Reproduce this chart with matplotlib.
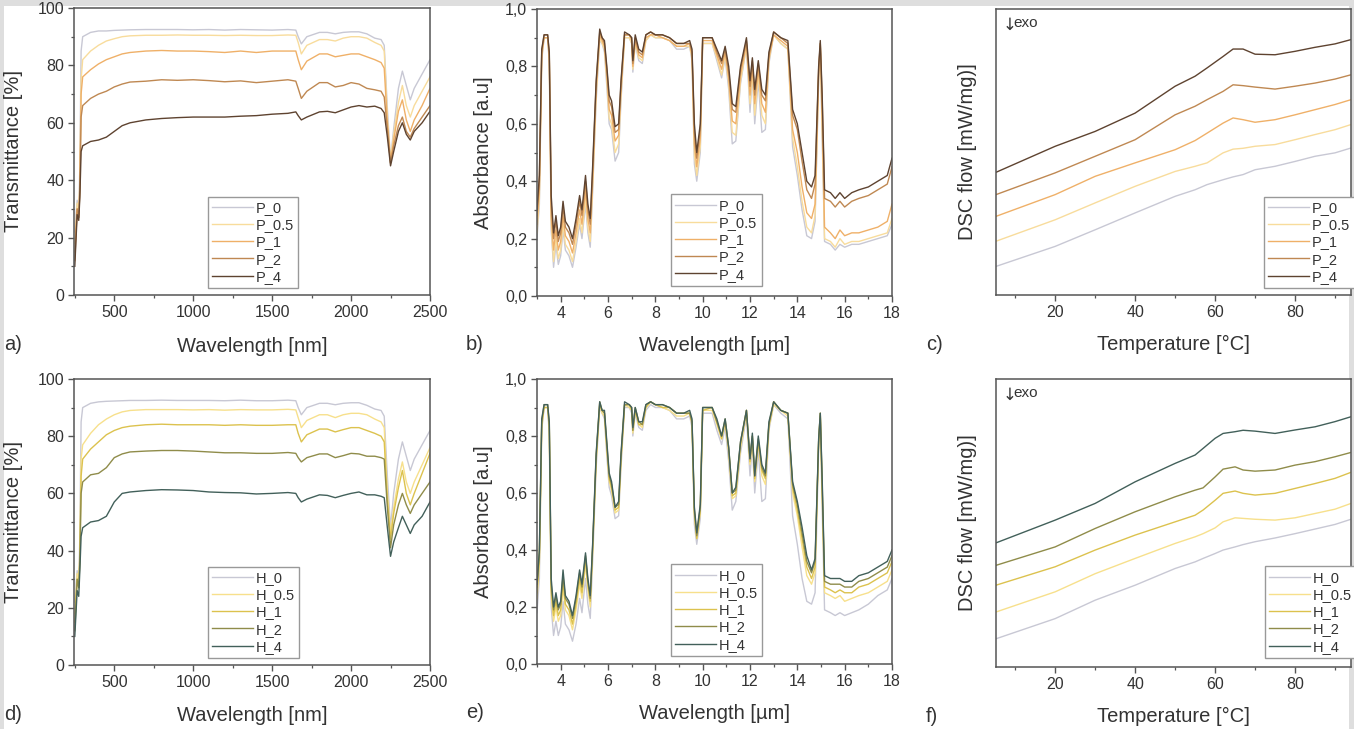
import matplotlib
matplotlib.use('Agg')
import matplotlib.pyplot as plt
from matplotlib.ticker import MultipleLocator, FuncFormatter
from matplotlib.patches import Rectangle

plt.rcParams['font.family'] = ['Liberation Sans', 'DejaVu Sans']

W, H = 1354, 729

# ---------------- data ----------------
p_labels = ['P_0', 'P_0.5', 'P_1', 'P_2', 'P_4']
h_labels = ['H_0', 'H_0.5', 'H_1', 'H_2', 'H_4']
p_colors = ['#c8c8d4', '#f8dc9c', '#efb068', '#bf8852', '#5e4330']
h_colors = ['#c8c8d4', '#f7e08c', '#dcc24e', '#8f8c4a', '#42605a']

# transmittance (a, d)
x_nir = [250, 265, 275, 282, 290, 300, 350, 400, 450, 500,
         550, 600, 700, 800, 900, 1000, 1100, 1200, 1300, 1400,
         1500, 1600, 1650, 1665, 1685, 1720, 1800, 1850, 1900, 1950,
         2000, 2050, 2100, 2150, 2190, 2210, 2230, 2250, 2270, 2300,
         2325, 2350, 2375, 2400, 2450, 2500]

t_P0 = [22, 33, 28, 45, 85, 90, 91.5, 92, 92, 92.2,
        92.3, 92.4, 92.5, 92.5, 92.5, 92.4, 92.5, 92.3, 92.5, 92.4,
        92.3, 92.5, 92.3, 90, 87.5, 90, 91.5, 91.5, 91, 91.5,
        91.7, 91.7, 91, 89.5, 89, 87, 65, 47, 58, 72,
        78, 73, 68, 72, 77, 82]
t_P05 = [18, 32, 28, 40, 75, 82, 85, 87, 88.5, 89.3,
         90, 90.3, 90.5, 90.5, 90.6, 90.5, 90.5, 90.4, 90.5, 90.4,
         90.4, 90.6, 90.5, 88, 84, 87, 89, 89, 88.5, 89.5,
         90, 90, 89.5, 88, 87, 85, 62, 47, 56, 67,
         73, 66, 62, 66, 71, 76]
t_P1 = [15, 30, 27, 38, 70, 76, 78.5, 80.5, 82, 83,
        84, 84.5, 85, 85.2, 85, 85, 84.8, 84.5, 85, 84.5,
        85, 85, 85, 82, 78.5, 81.5, 84, 84, 83, 83.5,
        84, 84, 83, 82, 81, 79, 60, 46, 54, 64,
        68, 61, 57, 61, 66, 72]
t_P2 = [12, 30, 27, 36, 62, 66, 68.5, 70, 71, 72.5,
        73.5, 74.2, 74.5, 75, 74.8, 75, 74.7, 74.3, 74.6, 74,
        74.5, 75, 74.5, 72, 68.5, 71, 74, 74, 72.5, 73,
        74, 73.5, 72, 71.5, 71, 69, 58, 46, 52, 59,
        62, 57, 55, 58, 62, 66]
t_P4 = [10, 28, 26, 34, 50, 52, 53.5, 54, 55, 57,
        59, 60, 61, 61.5, 61.8, 62, 62, 62, 62.3, 62.5,
        63, 63.3, 63.8, 62.5, 61, 62, 63.8, 64, 63.5, 64.5,
        65.5, 66, 65.5, 65.8, 65, 63.5, 55, 45, 50, 57,
        60, 56, 54, 57, 60, 64]

t_H0 = [22, 33, 28, 45, 85, 90, 91.5, 92, 92.2, 92.3,
        92.4, 92.5, 92.5, 92.6, 92.5, 92.5, 92.5, 92.4, 92.6, 92.4,
        92.4, 92.6, 92.4, 90, 87.5, 90, 91.5, 91.5, 91, 91.5,
        91.7, 91.7, 90.8, 89.5, 89, 87, 66, 48, 60, 72,
        78, 73, 68, 72, 77, 82]
t_H05 = [18, 32, 28, 40, 72, 77, 81, 84, 86, 87.5,
         88.5, 89, 89.3, 89.3, 89.3, 89.2, 89.3, 89.1, 89.3, 89.2,
         89.2, 89.4, 89.2, 86.5, 83, 85.5, 87.5, 87.5, 86.5, 87.5,
         88, 88, 87.5, 86, 85, 83, 60, 46, 55, 65,
         71, 64, 60, 64, 70, 76]
t_H1 = [15, 30, 27, 38, 66, 72, 75.5, 78, 80.5, 82,
        83, 83.5, 84, 84.2, 84, 84, 84, 83.8, 84, 83.8,
        83.8, 84, 84, 81, 78, 80.5, 82.5, 82.5, 81.5, 82.3,
        83, 83, 82, 81, 80, 78, 58, 44, 53, 62,
        68, 60, 56, 60, 67, 74]
t_H2 = [12, 30, 27, 36, 60, 64, 66.5, 67, 69, 72.5,
        73.8, 74.5, 74.8, 75, 75, 74.8, 74.5, 74.2, 74.2, 74,
        74, 74.3, 74, 72.5, 71, 72.5, 73.8, 73.8, 72.5, 73.2,
        74, 73.8, 73, 73, 72.5, 72, 55, 41, 49, 56,
        60, 56, 53, 56, 60, 64]
t_H4 = [10, 26, 24, 33, 45, 48, 50, 50.5, 52, 57,
        60, 60.5, 61, 61.3, 61.2, 61, 60.5, 60.3, 60.2, 59.8,
        60, 60.3, 60, 58.5, 57, 58, 59.5, 59.3, 58.5, 59.3,
        60, 60.5, 59.5, 59.5, 59, 58.5, 48, 38, 43, 48,
        52, 49, 46, 49, 52, 57]

# absorbance (b, e)
x_mir = [3.0, 3.1, 3.2, 3.3, 3.45, 3.52, 3.6, 3.7, 3.8, 3.9,
         4.0, 4.1, 4.2, 4.35, 4.5, 4.65, 4.8, 4.9, 5.05, 5.15,
         5.25, 5.35, 5.5, 5.65, 5.75, 5.85, 5.95, 6.05, 6.15, 6.3,
         6.45, 6.55, 6.7, 6.9, 7.0, 7.05, 7.15, 7.3, 7.45, 7.6,
         7.8, 8.0, 8.3, 8.6, 8.9, 9.2, 9.45, 9.55, 9.65, 9.75,
         9.9, 10.0, 10.4, 10.6, 10.8, 10.95, 11.1, 11.25, 11.4, 11.6,
         11.85, 12.0, 12.1, 12.2, 12.35, 12.5, 12.65, 12.8, 13.0, 13.3,
         13.6, 13.8, 14.0, 14.2, 14.4, 14.6, 14.75, 14.9, 14.97, 15.05,
         15.15, 15.4, 15.6, 15.8, 16.0, 16.3, 16.6, 17.0, 17.4, 17.8,
         18.0]

a_P0 = [0.20, 0.32, 0.82, 0.90, 0.90, 0.81, 0.23, 0.10, 0.18, 0.11,
        0.14, 0.23, 0.16, 0.14, 0.10, 0.17, 0.25, 0.20, 0.32, 0.22,
        0.17, 0.36, 0.68, 0.89, 0.88, 0.85, 0.73, 0.60, 0.58, 0.47,
        0.50, 0.68, 0.90, 0.90, 0.88, 0.78, 0.88, 0.82, 0.81, 0.89,
        0.91, 0.90, 0.90, 0.89, 0.86, 0.86, 0.87, 0.82, 0.46, 0.40,
        0.50, 0.88, 0.88, 0.82, 0.76, 0.83, 0.72, 0.53, 0.54, 0.74,
        0.87, 0.64, 0.77, 0.60, 0.75, 0.57, 0.58, 0.81, 0.91, 0.88,
        0.86, 0.52, 0.42, 0.30, 0.21, 0.20, 0.26, 0.75, 0.87, 0.55,
        0.19, 0.18, 0.16, 0.18, 0.17, 0.18, 0.18, 0.19, 0.20, 0.21,
        0.25]
a_P05 = [0.22, 0.34, 0.83, 0.90, 0.90, 0.82, 0.25, 0.12, 0.20, 0.13,
         0.16, 0.25, 0.18, 0.16, 0.12, 0.19, 0.27, 0.22, 0.34, 0.24,
         0.19, 0.38, 0.70, 0.90, 0.88, 0.86, 0.75, 0.62, 0.60, 0.50,
         0.53, 0.70, 0.90, 0.90, 0.88, 0.79, 0.88, 0.83, 0.82, 0.89,
         0.91, 0.90, 0.90, 0.89, 0.87, 0.87, 0.87, 0.83, 0.49, 0.42,
         0.52, 0.88, 0.88, 0.83, 0.77, 0.84, 0.74, 0.57, 0.56, 0.75,
         0.87, 0.67, 0.78, 0.63, 0.77, 0.63, 0.60, 0.82, 0.91, 0.88,
         0.86, 0.55, 0.45, 0.33, 0.24, 0.22, 0.28, 0.76, 0.87, 0.58,
         0.20, 0.19, 0.17, 0.20, 0.18, 0.19, 0.19, 0.20, 0.21, 0.22,
         0.27]
a_P1 = [0.25, 0.37, 0.84, 0.90, 0.90, 0.83, 0.28, 0.16, 0.23, 0.16,
        0.19, 0.28, 0.21, 0.19, 0.15, 0.22, 0.30, 0.25, 0.37, 0.27,
        0.22, 0.40, 0.72, 0.91, 0.89, 0.87, 0.77, 0.65, 0.63, 0.54,
        0.56, 0.72, 0.91, 0.91, 0.89, 0.80, 0.89, 0.84, 0.83, 0.90,
        0.91, 0.91, 0.90, 0.89, 0.87, 0.87, 0.88, 0.84, 0.53, 0.45,
        0.55, 0.89, 0.89, 0.84, 0.79, 0.85, 0.76, 0.61, 0.60, 0.77,
        0.88, 0.70, 0.80, 0.67, 0.79, 0.67, 0.64, 0.83, 0.91, 0.89,
        0.87, 0.58, 0.50, 0.38, 0.29, 0.27, 0.32, 0.77, 0.88, 0.62,
        0.24, 0.22, 0.20, 0.23, 0.21, 0.22, 0.22, 0.23, 0.24, 0.26,
        0.32]
a_P2 = [0.28, 0.40, 0.85, 0.91, 0.91, 0.84, 0.32, 0.20, 0.26, 0.19,
        0.22, 0.31, 0.24, 0.22, 0.18, 0.25, 0.33, 0.28, 0.40, 0.30,
        0.25, 0.43, 0.74, 0.92, 0.90, 0.88, 0.79, 0.68, 0.66, 0.57,
        0.58, 0.74, 0.91, 0.91, 0.90, 0.81, 0.90, 0.85, 0.84, 0.91,
        0.92, 0.91, 0.91, 0.90, 0.88, 0.88, 0.88, 0.85, 0.57, 0.48,
        0.58, 0.90, 0.90, 0.85, 0.81, 0.86, 0.78, 0.65, 0.64, 0.79,
        0.89, 0.73, 0.82, 0.70, 0.81, 0.70, 0.68, 0.84, 0.92, 0.90,
        0.88, 0.63, 0.58, 0.47, 0.37, 0.34, 0.39, 0.79, 0.88, 0.68,
        0.34, 0.33, 0.31, 0.33, 0.31, 0.33, 0.34, 0.35, 0.37, 0.39,
        0.45]
a_P4 = [0.30, 0.42, 0.86, 0.91, 0.91, 0.85, 0.35, 0.22, 0.28, 0.21,
        0.24, 0.33, 0.26, 0.24, 0.20, 0.27, 0.35, 0.30, 0.42, 0.32,
        0.27, 0.45, 0.75, 0.93, 0.90, 0.89, 0.80, 0.70, 0.68, 0.59,
        0.60, 0.75, 0.92, 0.91, 0.90, 0.82, 0.91, 0.86, 0.85, 0.91,
        0.92, 0.91, 0.91, 0.90, 0.88, 0.88, 0.89, 0.86, 0.60, 0.50,
        0.60, 0.90, 0.90, 0.86, 0.82, 0.87, 0.80, 0.67, 0.66, 0.80,
        0.90, 0.75, 0.83, 0.72, 0.82, 0.72, 0.70, 0.85, 0.92, 0.90,
        0.89, 0.65, 0.60, 0.50, 0.40, 0.38, 0.42, 0.80, 0.89, 0.70,
        0.37, 0.36, 0.34, 0.36, 0.34, 0.36, 0.37, 0.38, 0.40, 0.42,
        0.48]

a_H0 = [0.18, 0.30, 0.82, 0.90, 0.90, 0.80, 0.20, 0.10, 0.15, 0.10,
        0.13, 0.22, 0.14, 0.12, 0.08, 0.14, 0.23, 0.18, 0.30, 0.21,
        0.16, 0.36, 0.69, 0.90, 0.88, 0.86, 0.73, 0.62, 0.59, 0.51,
        0.52, 0.69, 0.90, 0.90, 0.88, 0.80, 0.88, 0.83, 0.82, 0.89,
        0.91, 0.90, 0.90, 0.89, 0.86, 0.86, 0.87, 0.83, 0.49, 0.42,
        0.51, 0.88, 0.88, 0.82, 0.77, 0.83, 0.71, 0.54, 0.57, 0.74,
        0.87, 0.66, 0.77, 0.60, 0.75, 0.57, 0.58, 0.82, 0.91, 0.88,
        0.86, 0.52, 0.42, 0.30, 0.22, 0.21, 0.25, 0.76, 0.87, 0.55,
        0.19, 0.18, 0.17, 0.18, 0.17, 0.18, 0.19, 0.21, 0.24, 0.26,
        0.30]
a_H05 = [0.23, 0.35, 0.83, 0.90, 0.90, 0.82, 0.24, 0.15, 0.20, 0.15,
         0.17, 0.27, 0.19, 0.17, 0.12, 0.19, 0.28, 0.23, 0.35, 0.26,
         0.20, 0.39, 0.71, 0.91, 0.88, 0.87, 0.75, 0.64, 0.61, 0.53,
         0.54, 0.71, 0.91, 0.90, 0.89, 0.81, 0.89, 0.84, 0.83, 0.90,
         0.92, 0.91, 0.90, 0.89, 0.87, 0.87, 0.88, 0.84, 0.52, 0.44,
         0.53, 0.89, 0.89, 0.84, 0.79, 0.85, 0.74, 0.58, 0.59, 0.76,
         0.88, 0.70, 0.79, 0.64, 0.78, 0.66, 0.63, 0.83, 0.91, 0.89,
         0.87, 0.60, 0.52, 0.41, 0.31, 0.28, 0.32, 0.77, 0.87, 0.59,
         0.25, 0.24, 0.23, 0.24, 0.22, 0.23, 0.24, 0.25, 0.27, 0.29,
         0.33]
a_H1 = [0.25, 0.37, 0.84, 0.90, 0.90, 0.83, 0.26, 0.17, 0.22, 0.17,
        0.19, 0.29, 0.21, 0.19, 0.14, 0.21, 0.30, 0.25, 0.37, 0.28,
        0.22, 0.40, 0.72, 0.91, 0.89, 0.88, 0.76, 0.65, 0.62, 0.54,
        0.55, 0.72, 0.91, 0.91, 0.89, 0.82, 0.89, 0.84, 0.84, 0.90,
        0.92, 0.91, 0.90, 0.90, 0.88, 0.88, 0.88, 0.85, 0.53, 0.44,
        0.54, 0.89, 0.90, 0.85, 0.79, 0.85, 0.75, 0.59, 0.60, 0.77,
        0.89, 0.71, 0.80, 0.65, 0.78, 0.68, 0.65, 0.84, 0.92, 0.89,
        0.88, 0.62, 0.54, 0.44, 0.34, 0.30, 0.34, 0.78, 0.88, 0.61,
        0.27, 0.26, 0.25, 0.26, 0.25, 0.25, 0.27, 0.28, 0.30, 0.32,
        0.36]
a_H2 = [0.27, 0.39, 0.85, 0.91, 0.91, 0.84, 0.28, 0.19, 0.24, 0.19,
        0.21, 0.31, 0.23, 0.21, 0.16, 0.23, 0.32, 0.27, 0.38, 0.29,
        0.23, 0.41, 0.73, 0.92, 0.89, 0.88, 0.77, 0.66, 0.63, 0.55,
        0.56, 0.73, 0.91, 0.91, 0.90, 0.82, 0.90, 0.85, 0.84, 0.91,
        0.92, 0.91, 0.91, 0.90, 0.88, 0.88, 0.88, 0.85, 0.54, 0.45,
        0.55, 0.90, 0.90, 0.85, 0.80, 0.86, 0.76, 0.60, 0.61, 0.78,
        0.89, 0.72, 0.80, 0.66, 0.79, 0.69, 0.66, 0.84, 0.92, 0.89,
        0.88, 0.63, 0.56, 0.46, 0.36, 0.32, 0.36, 0.78, 0.88, 0.63,
        0.29, 0.28, 0.28, 0.28, 0.27, 0.27, 0.29, 0.30, 0.32, 0.34,
        0.38]
a_H4 = [0.28, 0.40, 0.86, 0.91, 0.91, 0.85, 0.30, 0.20, 0.25, 0.20,
        0.22, 0.33, 0.24, 0.22, 0.17, 0.24, 0.33, 0.28, 0.39, 0.30,
        0.24, 0.42, 0.74, 0.92, 0.89, 0.89, 0.78, 0.67, 0.64, 0.55,
        0.57, 0.74, 0.92, 0.91, 0.90, 0.83, 0.90, 0.85, 0.85, 0.91,
        0.92, 0.91, 0.91, 0.90, 0.88, 0.88, 0.89, 0.86, 0.55, 0.46,
        0.56, 0.90, 0.90, 0.86, 0.80, 0.86, 0.76, 0.60, 0.62, 0.78,
        0.89, 0.72, 0.81, 0.66, 0.80, 0.70, 0.67, 0.85, 0.92, 0.89,
        0.88, 0.64, 0.57, 0.48, 0.38, 0.33, 0.37, 0.79, 0.88, 0.65,
        0.31, 0.30, 0.30, 0.30, 0.29, 0.29, 0.31, 0.32, 0.34, 0.36,
        0.40]

# DSC (c, f) - heat flow in arbitrary units (no scale shown)
x_dsc_p = [5.2, 20, 30, 40, 50, 55, 58, 62, 64.5, 67, 70, 75, 80, 85, 90, 94]
d_P0 = [10, 17, 22.8, 28.7, 34.5, 36.8, 38.6, 40.3, 41.3, 42.1, 43.8, 45, 46.7, 48.5, 49.7, 51.4]
d_P05 = [18.8, 26.3, 32.2, 38, 43.2, 45, 46.2, 49.7, 51, 51.3, 52, 52.6, 54.3, 56.1, 57.8, 59.6]
d_P1 = [27.5, 35.1, 41.5, 46.2, 50.8, 54, 56.6, 60.1, 61.9, 61.3, 60.4, 61.3, 63, 64.8, 66.6, 68.3]
d_P2 = [35.1, 42.7, 48.5, 54.3, 63, 66, 68.3, 71.2, 73.5, 73.2, 72.7, 72, 73, 74.1, 75.5, 77]
d_P4 = [42.9, 52, 57.2, 63.6, 73, 76.5, 79.4, 83.4, 86, 86, 84.2, 84, 85.2, 86.6, 87.8, 89.3]

x_dsc_h = [5.2, 20, 30, 40, 50, 55, 57, 60, 62, 65, 67, 70, 75, 80, 85, 90, 94]
d_H0 = [9.8, 16.8, 23.2, 28.4, 34.2, 36.5, 37.7, 39.4, 40.6, 41.7, 42.5, 43.5, 44.8, 46.3, 47.9, 49.5, 51.3]
d_H05 = [19.1, 26.1, 32.4, 37.7, 42.9, 45.2, 46.3, 48.3, 50.4, 51.8, 51.6, 51.3, 51, 51.8, 53.3, 54.8, 56.8]
d_H1 = [28.4, 34.8, 40.6, 45.8, 50.4, 52.7, 54.5, 57.9, 60.3, 61.1, 60.3, 59.7, 60.3, 62, 63.7, 65.5, 67.6]
d_H2 = [35.3, 41.7, 48.1, 53.9, 59.1, 61.4, 62.2, 66, 68.7, 69.5, 68.4, 68, 68.4, 70.1, 71.3, 73, 74.5]
d_H4 = [43.1, 51, 56.8, 64.3, 70.7, 73.6, 75.9, 79.4, 81.1, 81.7, 82.2, 81.9, 81.1, 82.3, 83.4, 85.2, 86.9]

# ---------------- figure ----------------
fig = plt.figure(figsize=(W / 100, H / 100), dpi=100, facecolor='#dedede')
fig.patches.append(Rectangle((4 / W, 0), (W - 9) / W, (H - 6) / H,
                             transform=fig.transFigure, facecolor='white',
                             edgecolor='none', zorder=-1))

TXT = '#333333'
SP = '#555555'
LBL = 14.5


def px_axes(l, t, r, b):
    return fig.add_axes([l / W, 1 - b / H, (r - l) / W, (b - t) / H])


def style(ax):
    for s in ax.spines.values():
        s.set_color(SP)
        s.set_linewidth(1.1)
    ax.tick_params(which='both', direction='out', color=SP, top=False, right=False)
    ax.tick_params(which='major', length=4, width=1, labelsize=11.5, labelcolor=TXT, pad=3)
    ax.tick_params(which='minor', length=2.5, width=0.9)


def add_legend(ax, x0, y0):
    leg = ax.legend(loc='lower left', bbox_to_anchor=(x0, y0), fontsize=10.5,
                    frameon=True, fancybox=False, edgecolor='#999999', framealpha=1,
                    handlelength=2.8, handletextpad=0.2, labelspacing=0.22,
                    borderpad=0.3, borderaxespad=0)
    leg.get_frame().set_linewidth(1.0)
    for t in leg.get_texts():
        t.set_color(TXT)


comma = FuncFormatter(lambda v, p: f'{v:.1f}'.replace('.', ','))

panels = [
    ('a)', (74, 8, 430, 295), 'nir', x_nir, [t_P0, t_P05, t_P1, t_P2, t_P4], p_labels, p_colors, (0.375, 0.024)),
    ('b)', (537, 9, 892, 296), 'mir', x_mir, [a_P0, a_P05, a_P1, a_P2, a_P4], p_labels, p_colors, (0.377, 0.035)),
    ('c)', (996, 9, 1351, 295), 'dsc', x_dsc_p, [d_P0, d_P05, d_P1, d_P2, d_P4], p_labels, p_colors, (0.755, 0.024)),
    ('d)', (74, 379, 430, 665), 'nir', x_nir, [t_H0, t_H05, t_H1, t_H2, t_H4], h_labels, h_colors, (0.375, 0.024)),
    ('e)', (537, 379, 892, 664), 'mir', x_mir, [a_H0, a_H05, a_H1, a_H2, a_H4], h_labels, h_colors, (0.377, 0.028)),
    ('f)', (996, 379, 1351, 667), 'dsc', x_dsc_h, [d_H0, d_H05, d_H1, d_H2, d_H4], h_labels, h_colors, (0.757, 0.031)),
]

for letter, box, kind, xs, series, labels, colors, legpos in panels:
    ax = px_axes(*box)
    for ys, lab, c in zip(series, labels, colors):
        ax.plot(xs, ys, color=c, lw=1.0, label=lab)
    style(ax)
    if kind == 'nir':
        ax.set_xlim(245, 2500)
        ax.set_ylim(0, 100)
        ax.xaxis.set_major_locator(MultipleLocator(500))
        ax.xaxis.set_minor_locator(MultipleLocator(250))
        ax.yaxis.set_major_locator(MultipleLocator(20))
        ax.yaxis.set_minor_locator(MultipleLocator(10))
        ax.set_xlabel('Wavelength [nm]', fontsize=LBL, color=TXT)
        ax.set_ylabel('Transmittance [%]', fontsize=LBL, color=TXT)
        ax.yaxis.set_label_coords(-0.143, 0.5)
        ax.xaxis.set_label_coords(0.5, -0.145)
        lx = 4
    elif kind == 'mir':
        ax.set_xlim(3, 18)
        ax.set_ylim(0, 1.0)
        ax.xaxis.set_major_locator(MultipleLocator(2))
        ax.xaxis.set_minor_locator(MultipleLocator(1))
        ax.yaxis.set_major_locator(MultipleLocator(0.2))
        ax.yaxis.set_minor_locator(MultipleLocator(0.1))
        ax.yaxis.set_major_formatter(comma)
        ax.set_xlabel('Wavelength [\u00b5m]', fontsize=LBL, color=TXT)
        ax.set_ylabel('Absorbance [a.u]', fontsize=LBL, color=TXT)
        ax.yaxis.set_label_coords(-0.124, 0.5)
        ax.xaxis.set_label_coords(0.5, -0.14)
        lx = 466
    else:
        ax.set_xlim(5.2, 94)
        ax.set_ylim(0, 100)
        ax.xaxis.set_major_locator(MultipleLocator(20))
        ax.xaxis.set_minor_locator(MultipleLocator(10))
        ax.set_yticks([])
        ax.set_xlabel('Temperature [\u00b0C]', fontsize=LBL, color=TXT)
        ax.set_ylabel('DSC flow [mW/mg)]', fontsize=LBL, color=TXT)
        ax.yaxis.set_label_coords(-0.054, 0.5)
        ax.xaxis.set_label_coords(0.5, -0.14)
        ax.text(0.018, 0.945, '\u2193', transform=ax.transAxes, fontsize=12,
                family='DejaVu Sans', color=TXT, va='center', ha='left')
        ax.text(0.05, 0.95, 'exo', transform=ax.transAxes, fontsize=11,
                color=TXT, va='center', ha='left')
        lx = 926
    add_legend(ax, *legpos)
    # panel letter
    fig.text(lx / W, 1 - (box[3] + 49) / H, letter, fontsize=LBL, color=TXT,
             ha='left', va='center')

fig.savefig('out.png', dpi=100, facecolor=fig.get_facecolor())
